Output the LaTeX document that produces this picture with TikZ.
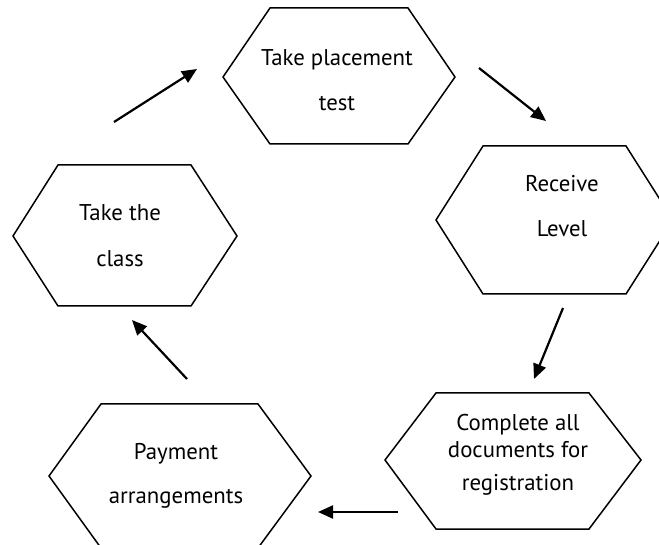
\documentclass[tikz,border=0pt]{standalone}
\usepackage{fontspec}
\setmainfont{PT Sans}
\usetikzlibrary{arrows.meta}
\tikzset{
  hexline/.style={draw=black, line width=1.5pt, line join=miter},
  hextext/.style={align=center, inner sep=0pt, font=\fontsize{22.8}{27}\selectfont},
  flowarrow/.style={draw=black, line width=2.2pt, -{Triangle[length=15pt,width=13pt]}},
}
\begin{document}
\begin{tikzpicture}[x=1pt,y=-1pt]
\useasboundingbox (0,0) rectangle (659,545);
\clip (0,0) rectangle (659,545);
% hexagons
\draw[hexline] (223,77) -- (270,8) -- (408,8) -- (455,77) -- (408,144) -- (270,144) -- cycle;
\draw[hexline] (436,220) -- (483,146) -- (626,146) -- (673,220) -- (626,294) -- (483,294) -- cycle;
\draw[hexline] (13,236) -- (58,165) -- (191,165) -- (237,236) -- (191,306) -- (58,306) -- cycle;
\draw[hexline] (49,476) -- (101,404) -- (258,404) -- (311,476) -- (258,548) -- (101,548) -- cycle;
\draw[hexline] (385,460) -- (436,393) -- (589,393) -- (641,460) -- (589,529) -- (436,529) -- cycle;
% texts
\node[hextext] (test) at (337,80) {Take placement\\[18pt]test};
\node[hextext] (level) at (562,206) {Receive\\[18pt]Level};
\node[hextext] (klass) at (120,236) {Take the\\[19pt]class};
\node[hextext] (pay) at (176,476) {Payment\\[17pt]arrangements};
\node[hextext] (docs) at (518,455) {Complete all\\documents for\\[6pt]registration};
% arrow end points
\coordinate (a1s) at (114,122); \coordinate (a1e) at (197,69);
\coordinate (a2s) at (479,68);  \coordinate (a2e) at (546,121);
\coordinate (a3s) at (563,308); \coordinate (a3e) at (534,379);
\coordinate (a4s) at (398,512); \coordinate (a4e) at (318,512);
\coordinate (a5s) at (187,379); \coordinate (a5e) at (132,320);
\draw[flowarrow] (a1s) -- (a1e);
\draw[flowarrow] (a2s) -- (a2e);
\draw[flowarrow] (a3s) -- (a3e);
\draw[flowarrow] (a4s) -- (a4e);
\draw[flowarrow] (a5s) -- (a5e);
\end{tikzpicture}
\end{document}
